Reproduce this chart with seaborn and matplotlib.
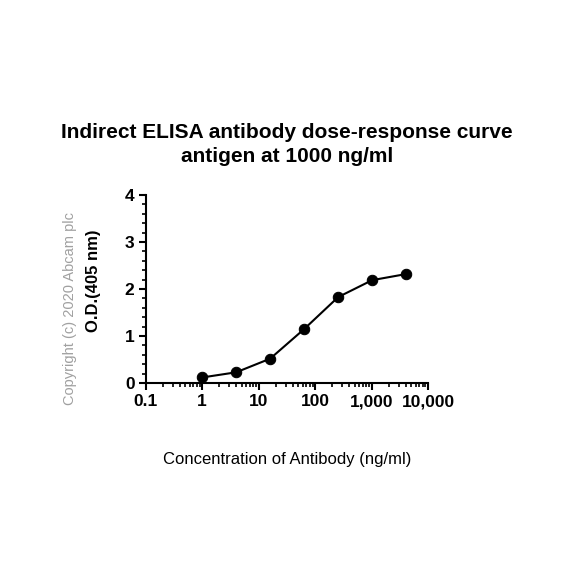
import numpy as np
import pandas as pd
import matplotlib
matplotlib.use("Agg")
import matplotlib.pyplot as plt
from matplotlib.ticker import FixedLocator, FuncFormatter, LogLocator, MultipleLocator
import seaborn as sns

# antibody concentration (ng/ml), 4-fold dilutions
concentration = [1, 4, 16, 64, 256, 1024, 4096]
od_405 = [0.12, 0.23, 0.52, 1.15, 1.83, 2.19, 2.32]

x_ticks = [0.1, 1, 10, 100, 1000, 10000]
y_ticks = [0, 1, 2, 3, 4]

df = pd.DataFrame({"conc": concentration, "od": od_405})

sns.set_theme(style="ticks")
plt.rcParams['font.family'] = ['Liberation Sans', 'DejaVu Sans']
plt.rcParams['text.color'] = 'black'
plt.rcParams['axes.labelcolor'] = 'black'

fig = plt.figure(figsize=(5.84, 5.84), dpi=100)
ax = fig.add_axes([0.2495, 0.344, 0.4835, 0.322])

sns.lineplot(data=df, x="conc", y="od", ax=ax, color="black", linewidth=1.5,
             marker="o", markersize=7.5, markeredgecolor="black")

ax.set_xscale("log")
ax.set_xlim(0.1, 10000)
ax.set_ylim(0, 4)
ax.xaxis.set_major_locator(FixedLocator(x_ticks))
ax.xaxis.set_minor_locator(LogLocator(base=10, subs=np.arange(2, 10)))
ax.xaxis.set_major_formatter(FuncFormatter(lambda v, p: f"{v:,.0f}" if v >= 1 else f"{v:g}"))
ax.yaxis.set_major_locator(FixedLocator(y_ticks))
ax.yaxis.set_minor_locator(MultipleLocator(0.2))

sns.despine(ax=ax)
for s in ["left", "bottom"]:
    ax.spines[s].set_linewidth(1.5)
    ax.spines[s].set_color("black")

ax.tick_params(which="major", direction="out", length=5, width=1.5, colors="black",
               labelcolor="black", labelsize=12.5, pad=3)
ax.tick_params(which="minor", direction="out", length=3, width=1.2, colors="black")
for lab in ax.get_xticklabels() + ax.get_yticklabels():
    lab.set_fontweight("bold")

ax.set_xlabel("Concentration of Antibody (ng/ml)", fontsize=12, labelpad=31)
ax.set_ylabel("O.D.(405 nm)", fontsize=12, fontweight="bold")
ax.yaxis.set_label_coords(-0.16, 0.543)
ax.set_title("Indirect ELISA antibody dose-response curve\nantigen at 1000 ng/ml",
             fontsize=15, fontweight="bold", pad=24, linespacing=1.3, color="black")

fig.text(0.12, 0.471, "Copyright (c) 2020 Abcam plc", rotation=90, color="#a0a0a0",
         fontsize=10.5, ha="center", va="center")

fig.savefig("out.png", dpi=100, facecolor="white")
